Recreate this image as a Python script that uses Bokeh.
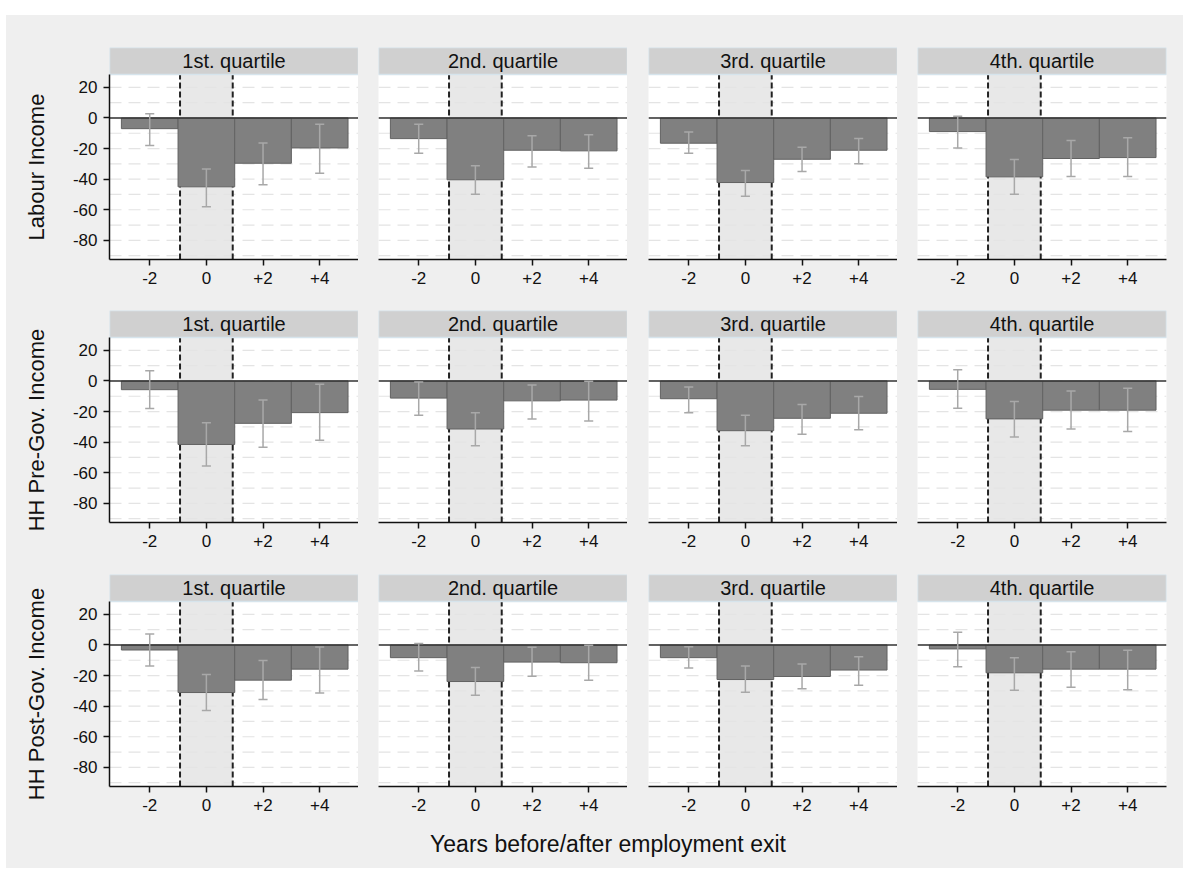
import math

from bokeh.core.properties import value
from bokeh.embed import file_html
from bokeh.layouts import column, row
from bokeh.models import FixedTicker, Range1d, Spacer
from bokeh.plotting import figure
from bokeh.resources import INLINE

# ---------------------------------------------------------------- data
ROW_TITLES = ["Labour Income", "HH Pre-Gov. Income", "HH Post-Gov. Income"]
COL_TITLES = ["1st. quartile", "2nd. quartile", "3rd. quartile", "4th. quartile"]
X_TITLE = "Years before/after employment exit"

PERIODS = [-2, 0, 2, 4]
PERIOD_LABELS = ["-2", "0", "+2", "+4"]
Y_TICKS = [20, 0, -20, -40, -60, -80]
Y_TICK_LABELS = ["20", "0", "-20", "-40", "-60", "-80"]

# point estimates (%), one list per quartile
labour_est = [[-7.0, -45.0, -29.6, -19.6], [-13.5, -40.4, -21.1, -21.5],
              [-16.5, -42.2, -27.0, -21.1], [-8.9, -38.5, -26.5, -25.9]]
labour_lo = [[-18.0, -58.0, -43.7, -36.1], [-23.0, -49.8, -32.0, -32.8],
             [-23.0, -51.1, -35.0, -30.0], [-19.6, -49.8, -38.3, -38.3]]
labour_hi = [[2.8, -33.3, -16.3, -4.1], [-4.1, -31.3, -11.7, -10.9],
             [-9.1, -34.3, -19.1, -13.5], [1.1, -27.2, -14.8, -13.0]]

pre_est = [[-5.7, -41.5, -27.7, -20.7], [-11.2, -31.4, -13.0, -12.5],
           [-11.6, -32.5, -24.4, -21.1], [-5.5, -24.8, -19.1, -19.1]]
pre_lo = [[-18.0, -55.6, -43.3, -38.7], [-22.4, -42.4, -24.8, -26.2],
          [-20.7, -42.4, -34.9, -31.9], [-17.8, -36.7, -31.4, -33.0]]
pre_hi = [[6.6, -27.3, -12.5, -2.2], [-0.7, -20.7, -2.6, -0.2],
          [-4.0, -22.4, -15.4, -10.1], [7.3, -13.4, -6.6, -4.8]]

post_est = [[-3.3, -31.1, -23.0, -15.8], [-8.3, -23.9, -11.2, -11.6],
            [-8.3, -22.6, -20.6, -16.4], [-2.6, -18.2, -15.8, -15.8]]
post_lo = [[-13.8, -42.8, -35.7, -31.4], [-17.1, -32.9, -20.4, -23.0],
           [-15.1, -30.9, -28.7, -26.3], [-14.3, -29.6, -27.6, -29.2]]
post_hi = [[7.2, -19.3, -10.1, -1.3], [0.9, -14.7, -1.5, -0.2],
           [-1.1, -13.8, -12.5, -7.7], [8.3, -8.3, -4.4, -3.5]]

ESTIMATES = [labour_est, pre_est, post_est]
LOWER = [labour_lo, pre_lo, post_lo]
UPPER = [labour_hi, pre_hi, post_hi]

# ---------------------------------------------------------------- style
FONT = "Liberation Sans"
PAGE_BG = "#efefef"
STRIP_BG = "#d0d0d0"
STRIP_EDGE = "#d6e4ec"
BAND_BG = "#e8e8e8"
BAR_FILL = "#808080"
BAR_EDGE = "#626262"
CI_COLOR = "#a8a8a8"
GRID_COLOR = "#e4e4e4"

X_MIN, X_MAX = -3.42, 5.37
Y_MIN, Y_DATA_TOP = -92.5, 28.4
BAND = 0.93          # half width of the shaded exit window
CAP = 0.16           # half width of the CI caps
FRAME_W, FRAME_H, STRIP_H = 249, 212, 27
UNITS_PER_PX = (Y_DATA_TOP - Y_MIN) / (FRAME_H - STRIP_H)
Y_TOP = Y_DATA_TOP + STRIP_H * UNITS_PER_PX

ROW_LABEL_W = 60
COL_LEFT = [43, 20, 21, 20]
COL_RIGHT = [0, 0, 0, 17]
ROW_TOP = [32, 0, 0]
ROW_BOTTOM = [51, 52, 40]
BG_STYLE = {"background-color": PAGE_BG}


def panel(r, c):
    est, lo, hi = ESTIMATES[r][c], LOWER[r][c], UPPER[r][c]
    p = figure(x_range=Range1d(X_MIN, X_MAX), y_range=Range1d(Y_MIN, Y_TOP),
               frame_width=FRAME_W, frame_height=FRAME_H,
               min_border_left=COL_LEFT[c], min_border_right=COL_RIGHT[c],
               min_border_top=ROW_TOP[r], min_border_bottom=ROW_BOTTOM[r],
               output_backend="svg", toolbar_location=None, title=None)
    p.grid.visible = False
    p.outline_line_color = None
    p.background_fill_color = "white"
    p.border_fill_color = PAGE_BG

    # shaded exit window
    p.quad(left=-BAND, right=BAND, bottom=Y_MIN, top=Y_DATA_TOP,
           fill_color=BAND_BG, line_color=None)
    # dashed horizontal grid every 10 points
    gy = list(range(-90, 21, 10))
    p.segment(x0=X_MIN, x1=X_MAX, y0=gy, y1=gy, line_color=GRID_COLOR,
              line_width=1.2, line_dash="12 7")
    # window borders
    p.segment(x0=[-BAND, BAND], x1=[-BAND, BAND], y0=Y_MIN, y1=Y_DATA_TOP,
              line_color="#222222", line_width=2, line_dash="6 3")
    # bars
    p.vbar(x=PERIODS, width=2, top=0, bottom=est, fill_color=BAR_FILL,
           line_color=BAR_EDGE, line_width=1)
    # zero line
    p.segment(x0=X_MIN, x1=X_MAX, y0=0, y1=0, line_color="#333333", line_width=1.5)
    # confidence intervals
    p.segment(x0=PERIODS, x1=PERIODS, y0=lo, y1=hi, line_color=CI_COLOR, line_width=1.5)
    left = [x - CAP for x in PERIODS]
    right = [x + CAP for x in PERIODS]
    p.segment(x0=left, x1=right, y0=hi, y1=hi, line_color=CI_COLOR, line_width=1.5)
    p.segment(x0=left, x1=right, y0=lo, y1=lo, line_color=CI_COLOR, line_width=1.5)

    # facet strip
    p.quad(left=X_MIN, right=X_MAX, bottom=Y_DATA_TOP, top=Y_TOP,
           fill_color=STRIP_BG, line_color=STRIP_EDGE, line_width=1.5)
    p.text(x=[(X_MIN + X_MAX) / 2], y=[(Y_DATA_TOP + Y_TOP) / 2], text=[COL_TITLES[c]],
           text_align="center", text_baseline="middle", text_font=value(FONT),
           text_font_size="20px", text_color="#111111")

    xa = p.xaxis[0]
    xa.ticker = FixedTicker(ticks=PERIODS)
    xa.major_label_overrides = dict(zip(PERIODS, PERIOD_LABELS))
    xa.axis_line_color = "#111111"
    xa.axis_line_width = 1.5
    xa.major_tick_line_color = "#111111"
    xa.major_tick_line_width = 1.5
    xa.major_tick_out = 6
    xa.major_tick_in = 0
    xa.minor_tick_line_color = None
    xa.major_label_standoff = 6
    xa.major_label_text_font = FONT
    xa.major_label_text_font_size = "17px"
    xa.major_label_text_color = "#111111"

    ya = p.yaxis[0]
    if c == 0:
        ya.ticker = FixedTicker(ticks=Y_TICKS)
        ya.major_label_overrides = dict(zip(Y_TICKS, Y_TICK_LABELS))
        ya.bounds = (Y_MIN, Y_DATA_TOP)
        ya.axis_line_color = "#111111"
        ya.axis_line_width = 1.5
        ya.major_tick_line_color = "#111111"
        ya.major_tick_line_width = 1.5
        ya.major_tick_out = 6
        ya.major_tick_in = 0
        ya.minor_tick_line_color = None
        ya.major_label_standoff = 6
        ya.major_label_text_font = FONT
        ya.major_label_text_font_size = "17px"
        ya.major_label_text_color = "#111111"
    else:
        ya.visible = False
    return p


def row_label(r):
    # frame starts where the panel frames start and runs to the bottom of the row
    fh = FRAME_H + ROW_BOTTOM[r]
    p = figure(x_range=Range1d(0, ROW_LABEL_W), y_range=Range1d(0, fh),
               frame_width=ROW_LABEL_W, frame_height=fh,
               min_border_left=0, min_border_right=0,
               min_border_top=ROW_TOP[r], min_border_bottom=0,
               x_axis_location=None, y_axis_location=None,
               output_backend="svg", toolbar_location=None, title=None)
    p.grid.visible = False
    p.outline_line_color = None
    p.background_fill_color = PAGE_BG
    p.border_fill_color = PAGE_BG
    data_mid = STRIP_H + (FRAME_H - STRIP_H) / 2
    p.text(x=[30], y=[fh - data_mid], text=[ROW_TITLES[r]], angle=math.pi / 2,
           text_align="center", text_baseline="middle", text_font=value(FONT),
           text_font_size="22px", text_color="#111111")
    return p


def x_title():
    w = ROW_LABEL_W + sum(COL_LEFT) + sum(COL_RIGHT) + 4 * FRAME_W
    h = 42
    p = figure(x_range=Range1d(0, w), y_range=Range1d(0, h),
               frame_width=w, frame_height=h,
               min_border_left=0, min_border_right=0, min_border_top=0, min_border_bottom=0,
               x_axis_location=None, y_axis_location=None,
               output_backend="svg", toolbar_location=None, title=None)
    p.grid.visible = False
    p.outline_line_color = None
    p.background_fill_color = PAGE_BG
    p.border_fill_color = PAGE_BG
    p.text(x=[601.5], y=[h - 17], text=[X_TITLE], text_align="center",
           text_baseline="middle", text_font=value(FONT),
           text_font_size="23px", text_color="#111111")
    return p


rows = [row(row_label(r), *[panel(r, c) for c in range(4)], styles=BG_STYLE)
        for r in range(3)]
body = column(*rows, x_title(), styles=BG_STYLE)
layout = column(Spacer(height=15), row(Spacer(width=6), body))

open("out.html", "w").write(file_html(layout, INLINE))
